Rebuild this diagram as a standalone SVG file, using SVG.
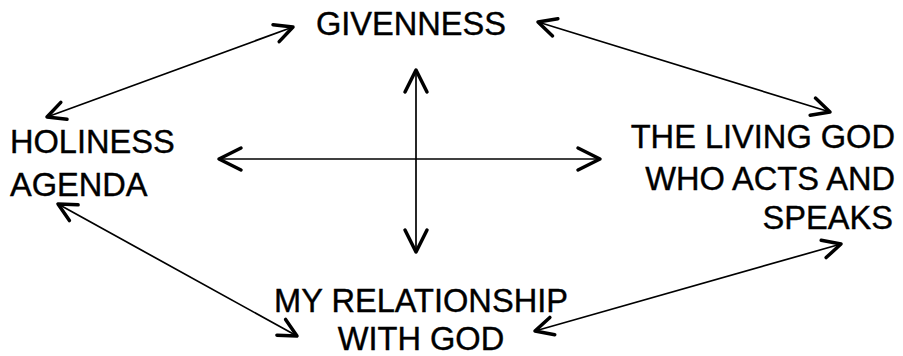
<svg xmlns="http://www.w3.org/2000/svg" width="903" height="356" viewBox="0 0 903 356">
<style>
text{font-family:"Liberation Sans",Arial,sans-serif;font-size:32.6px;fill:#000;stroke:#000;stroke-width:0.4}
.c{fill:none;stroke:#000;stroke-width:1.7}
</style>
<defs>
<marker id="ah" markerUnits="userSpaceOnUse" viewBox="-26 -14 30 28" markerWidth="30" markerHeight="28" refX="0" refY="0" orient="auto-start-reverse">
<path d="M-22,-11 L0,0 L-22,11" fill="none" stroke="#000" stroke-width="3.5" stroke-linecap="round" stroke-linejoin="round"/>
</marker>
<marker id="ahs" markerUnits="userSpaceOnUse" viewBox="-26 -14 30 28" markerWidth="30" markerHeight="28" refX="0" refY="0" orient="auto-start-reverse">
<path d="M-18,-9 L0,0 L-18,9" fill="none" stroke="#000" stroke-width="3.5" stroke-linecap="round" stroke-linejoin="round"/>
</marker>
</defs>
<rect width="903" height="356" fill="#fff"/>
<g id="connectors">
<line class="c" x1="416" y1="70" x2="416" y2="252" marker-start="url(#ah)" marker-end="url(#ah)"/>
<line class="c" x1="219" y1="159" x2="600" y2="159" marker-start="url(#ah)" marker-end="url(#ah)"/>
<line class="c" x1="47" y1="117" x2="293" y2="27" marker-start="url(#ahs)" marker-end="url(#ahs)"/>
<line class="c" x1="538" y1="22" x2="830" y2="112" marker-start="url(#ahs)" marker-end="url(#ahs)"/>
<line class="c" x1="58" y1="204" x2="297" y2="336" marker-start="url(#ahs)" marker-end="url(#ahs)"/>
<line class="c" x1="535" y1="331" x2="841" y2="244" marker-start="url(#ahs)" marker-end="url(#ahs)"/>
</g>
<g id="givenness"><text x="411" y="35" text-anchor="middle">GIVENNESS</text></g>
<g id="holiness"><text x="10" y="153">HOLINESS</text><text x="10" y="196">AGENDA</text></g>
<g id="living-god"><text x="895" y="148" text-anchor="end">THE LIVING GOD</text><text x="895" y="190" text-anchor="end">WHO ACTS AND</text><text x="893" y="229" text-anchor="end">SPEAKS</text></g>
<g id="relationship"><text x="421" y="312" text-anchor="middle">MY RELATIONSHIP</text><text x="421" y="350" text-anchor="middle">WITH GOD</text></g>
</svg>
